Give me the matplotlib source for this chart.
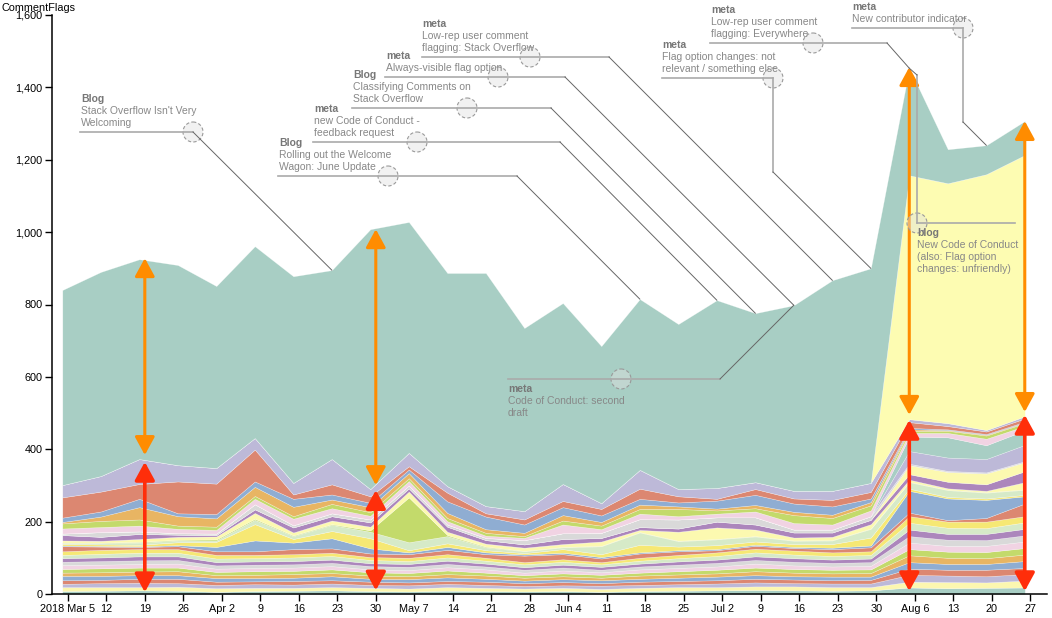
import numpy as np
import matplotlib
matplotlib.use("Agg")
import matplotlib.pyplot as plt
import matplotlib.dates as mdates
import matplotlib.transforms as mtransforms
from matplotlib.patches import Circle
from matplotlib.lines import Line2D
from matplotlib.ticker import StrMethodFormatter

plt.rcParams["font.family"] = ["Liberation Sans", "DejaVu Sans"]

W, H = 1052, 618

# weekly buckets (Sunday-based)
weeks = ["2018-03-04", "2018-03-11", "2018-03-18", "2018-03-25", "2018-04-01", "2018-04-08",
         "2018-04-15", "2018-04-22", "2018-04-29", "2018-05-06", "2018-05-13", "2018-05-20",
         "2018-05-27", "2018-06-03", "2018-06-10", "2018-06-17", "2018-06-24", "2018-07-01",
         "2018-07-08", "2018-07-15", "2018-07-22", "2018-07-29", "2018-08-05", "2018-08-12",
         "2018-08-19", "2018-08-26"]

# many small flag reasons at the bottom of the stack
thin = [
    [8, 9, 10, 9, 6, 8, 9, 10, 8, 7, 9, 8, 7, 8, 6, 8, 9, 10, 11, 10, 9, 10, 18, 16, 17, 18],
    [11, 10, 9, 11, 10, 9, 8, 9, 9, 8, 10, 9, 8, 9, 8, 9, 10, 9, 10, 11, 10, 9, 16, 17, 15, 19],
    [9, 11, 12, 10, 9, 10, 9, 10, 8, 9, 9, 8, 7, 7, 9, 8, 8, 10, 11, 9, 10, 10, 19, 18, 17, 18],
    [10, 9, 11, 12, 9, 8, 10, 9, 9, 8, 8, 9, 8, 9, 7, 9, 9, 9, 10, 10, 9, 10, 17, 16, 18, 17],
    [12, 11, 10, 10, 10, 9, 9, 11, 8, 9, 10, 8, 7, 8, 8, 8, 9, 10, 10, 9, 10, 9, 18, 16, 16, 19],
    [9, 10, 10, 11, 8, 9, 10, 9, 9, 8, 9, 9, 8, 8, 7, 9, 9, 9, 11, 10, 9, 10, 19, 17, 16, 18],
    [10, 11, 11, 10, 9, 10, 9, 10, 9, 9, 10, 8, 7, 8, 8, 8, 9, 10, 10, 10, 10, 10, 17, 17, 17, 18],
    [11, 10, 10, 11, 9, 9, 9, 9, 8, 8, 9, 9, 7, 8, 7, 9, 9, 9, 11, 10, 9, 10, 18, 16, 17, 18],
    [9, 10, 10, 10, 9, 9, 9, 9, 9, 9, 9, 8, 8, 8, 7, 8, 9, 10, 10, 10, 10, 10, 18, 17, 16, 17],
    [10, 10, 11, 10, 9, 9, 9, 9, 8, 8, 9, 8, 7, 8, 8, 8, 9, 9, 10, 10, 9, 10, 18, 16, 17, 18],
    [9, 10, 10, 10, 10, 9, 10, 10, 9, 8, 9, 8, 8, 8, 7, 8, 9, 10, 11, 10, 10, 10, 19, 17, 16, 18],
    [10, 11, 10, 10, 10, 9, 9, 9, 8, 9, 9, 8, 6, 7, 6, 8, 9, 10, 10, 11, 10, 10, 18, 17, 18, 17],
]
salmon2 = [14, 9, 6, 8, 10, 10, 14, 12, 10, 10, 12, 10, 18, 14, 10, 12, 10, 6, 8, 7, 9, 11, 10, 4, 10, 35]
blue2 = [2, 2, 2, 3, 12, 30, 18, 28, 14, 5, 8, 5, 3, 4, 4, 3, 3, 3, 3, 3, 4, 5, 60, 60, 50, 20]
byellow = [4, 4, 4, 8, 14, 45, 10, 20, 28, 6, 10, 6, 4, 10, 8, 21, 10, 11, 9, 8, 10, 22, 6, 4, 4, 4]
mint = [3, 4, 6, 5, 4, 12, 8, 17, 18, 22, 20, 8, 5, 5, 22, 34, 15, 16, 14, 9, 10, 24, 18, 19, 16, 14]
lime = [1, 1, 2, 2, 3, 3, 2, 2, 4, 124, 3, 2, 1, 1, 1, 1, 1, 1, 1, 1, 1, 1, 1, 1, 1, 1]
lyellow = [6, 5, 8, 8, 8, 16, 8, 10, 10, 16, 9, 8, 9, 8, 12, 6, 25, 32, 18, 8, 9, 12, 6, 4, 4, 20]
purple = [15, 11, 14, 6, 4, 10, 14, 12, 12, 9, 14, 10, 9, 14, 10, 8, 9, 16, 14, 14, 12, 12, 15, 18, 18, 30]
lyellow2 = [0, 0, 0, 0, 0, 0, 0, 0, 0, 0, 0, 0, 0, 0, 0, 0, 0, 0, 0, 0, 0, 0, 25, 27, 30, 25]
gray = [4, 13, 7, 4, 4, 14, 6, 8, 8, 8, 6, 6, 12, 16, 14, 22, 25, 12, 20, 8, 8, 10, 4, 3, 3, 3]
lav2 = [0, 0, 0, 0, 0, 0, 0, 0, 0, 0, 0, 0, 0, 0, 0, 0, 0, 0, 0, 0, 0, 0, 35, 37, 37, 45]
teal2 = [0, 0, 0, 0, 0, 0, 0, 0, 0, 0, 0, 0, 0, 0, 0, 0, 0, 0, 0, 0, 0, 0, 40, 56, 38, 40]
pink = [14, 14, 16, 12, 10, 15, 18, 14, 10, 12, 9, 6, 6, 24, 10, 15, 9, 10, 16, 18, 14, 16, 10, 12, 18, 12]
green = [14, 17, 17, 9, 9, 8, 7, 12, 10, 8, 9, 8, 5, 11, 10, 13, 20, 9, 9, 22, 18, 14, 6, 6, 9, 8]
orange = [4, 12, 34, 26, 23, 25, 26, 12, 14, 14, 14, 10, 9, 15, 10, 12, 7, 5, 9, 9, 9, 9, 4, 2, 2, 2]
blue = [12, 14, 23, 8, 12, 15, 22, 14, 12, 10, 32, 35, 23, 22, 18, 16, 11, 22, 28, 23, 23, 10, 4, 2, 2, 2]
salmon = [56, 55, 41, 88, 84, 88, 12, 28, 18, 9, 24, 9, 14, 17, 18, 28, 17, 5, 16, 14, 18, 18, 16, 9, 7, 9]
lavender = [34, 43, 69, 45, 43, 32, 32, 70, 20, 37, 18, 20, 23, 47, 16, 52, 20, 30, 19, 21, 25, 25, 8, 8, 4, 6]
new_coc = [0, 0, 0, 0, 0, 0, 0, 0, 0, 0, 0, 0, 0, 0, 0, 0, 0, 0, 0, 0, 0, 0, 674, 663, 707, 722]
no_longer_needed = [539, 564, 552, 553, 503, 530, 571, 522, 718, 638, 589, 644, 506, 500, 434,
                    472, 456, 519, 467, 513, 582, 593, 296, 94, 80, 94]

tick_dates = ["2018-03-05", "2018-03-12", "2018-03-19", "2018-03-26", "2018-04-02", "2018-04-09",
              "2018-04-16", "2018-04-23", "2018-04-30", "2018-05-07", "2018-05-14", "2018-05-21",
              "2018-05-28", "2018-06-04", "2018-06-11", "2018-06-18", "2018-06-25", "2018-07-02",
              "2018-07-09", "2018-07-16", "2018-07-23", "2018-07-30", "2018-08-06", "2018-08-13",
              "2018-08-20", "2018-08-27"]
tick_labels = ["2018 Mar 5", "12", "19", "26", "Apr 2", "9", "16", "23", "30", "May 7", "14",
               "21", "28", "Jun 4", "11", "18", "25", "Jul 2", "9", "16", "23", "30", "Aug 6",
               "13", "20", "27"]

# double arrows: total -> rest of stack (orange), rest of stack -> 0 (red)
arrow_dates = ["2018-03-19", "2018-04-30", "2018-08-05", "2018-08-26"]
orange_top = [928, 1008, 1456, 1307]
orange_bot = [384, 301, 495, 503]
red_top = [365, 287, 481, 495]
red_bot = [5, 10, 8, 8]

# (kind, lines, text x, underline y, underline x0..x1, circle x, bend points, target week, below)
notes = [
    ("Blog", ["Stack Overflow Isn't Very", "Welcoming"], 81, 132, 80, 193, 193, [], 7, False),
    ("Blog", ["Rolling out the Welcome", "Wagon: June Update"], 279, 176, 278, 517, 388, [], 15, False),
    ("meta", ["new Code of Conduct -", "feedback request"], 314, 142, 313, 560, 417, [], 17, False),
    ("Blog", ["Classifying Comments on", "Stack Overflow"], 353, 108, 352, 551, 467, [], 18, False),
    ("meta", ["Always-visible flag option"], 386, 77, 385, 565, 498, [], 19, False),
    ("meta", ["Low-rep user comment", "flagging: Stack Overflow"], 422, 57, 422, 609, 530, [], 20, False),
    ("meta", ["Flag option changes: not", "relevant / something else"], 662, 78, 662, 773, 773,
     [(773, 172)], 21, False),
    ("meta", ["Low-rep user comment", "flagging: Everywhere"], 711, 43, 710, 887, 813, [], 22, False),
    ("meta", ["New contributor indicator"], 852, 28, 852, 963, 963, [(963, 122)], 24, False),
    ("blog", ["New Code of Conduct", "(also: Flag option", "changes: unfriendly)"], 917, 223, 917, 1015, 917,
     [(917, 75)], 22, True),
    ("meta", ["Code of Conduct: second", "draft"], 508, 379, 508, 720, 621, [], 19, True),
]

x = np.array(weeks, dtype="datetime64[D]")
layers = thin + [salmon2, blue2, byellow, mint, lime, lyellow, purple, lyellow2, gray, lav2, teal2,
                 pink, green, orange, blue, salmon, lavender, new_coc, no_longer_needed]
thin_cols = ["#a8cec4", "#fcf7b0", "#bdb9d8", "#dc8771", "#8fadd2", "#e8b563", "#c3da6b",
             "#f1d3e3", "#d9d9d9", "#ac86bc", "#d6eac8", "#f6e874"]
cols = thin_cols + ["#dc8771", "#8fadd2", "#f6e874", "#d6eac8", "#c3da6b", "#fcf9b0", "#ac86bc",
                    "#fcf9b0", "#d9d9d9", "#bdb9d8", "#a8cec4", "#f1d3e3", "#c3da6b", "#e8b563",
                    "#8fadd2", "#dc8771", "#bdb9d8", "#fdfcb2", "#a8cec4"]

fig = plt.figure(figsize=(W / 100, H / 100), dpi=100)
ax = fig.add_axes([52 / W, (H - 594) / H, (1047 - 52) / W, (594 - 15) / H])
ax.stackplot(x, *layers, colors=cols, edgecolor=(1, 1, 1, 0.45), linewidth=0.35)

ax.set_xlim(np.datetime64("2018-03-02T03:00"), np.datetime64("2018-08-30T01:00"))
ax.set_ylim(0, 1600)
ax.set_yticks(range(0, 1601, 200))
ax.yaxis.set_major_formatter(StrMethodFormatter("{x:,.0f}"))
ax.set_xticks(np.array(tick_dates, dtype="datetime64[D]"))
ax.set_xticklabels(tick_labels)
ax.tick_params(labelsize=7.8, length=5, width=1, direction="out", pad=2)
for s in ["top", "right"]:
    ax.spines[s].set_visible(False)
for s in ["left", "bottom"]:
    ax.spines[s].set_linewidth(1.1)
fig.text(2 / W, 1 - 8 / H, "CommentFlags", fontsize=7.8, va="center", ha="left")

for d, ot, ob, rt, rb in zip(arrow_dates, orange_top, orange_bot, red_top, red_bot):
    xd = np.datetime64(d)
    ax.annotate("", xy=(xd, ot), xytext=(xd, ob),
                arrowprops=dict(arrowstyle="<|-|>,head_length=0.55,head_width=0.3", color="#ff8c00",
                                lw=2.2, shrinkA=0, shrinkB=0, mutation_scale=20))
    ax.annotate("", xy=(xd, rt), xytext=(xd, rb),
                arrowprops=dict(arrowstyle="<|-|>,head_length=0.55,head_width=0.3", color="#ff2e0a",
                                lw=2.6, shrinkA=0, shrinkB=0, mutation_scale=20))

# annotations live in pixel space (origin top-left), connectors end on the stack top
px = mtransforms.Affine2D().scale(1 / W, -1 / H).translate(0, 1) + fig.transFigure
totals = np.sum(np.array(layers), axis=0)
for kind, lines, tx, uy, ux0, ux1, cx, bends, ti, below in notes:
    if below:
        ys = [uy + 10] + [uy + 22 + 12 * k for k in range(len(lines))]
    else:
        n = len(lines)
        ys = [uy - 9 - 12 * n] + [uy - 9 - 12 * (n - 1 - k) for k in range(n)]
    fig.text(tx, ys[0], kind, transform=px, fontsize=7.5, fontweight="bold", color="#777777",
             va="center", ha="left")
    for yy, ln in zip(ys[1:], lines):
        fig.text(tx, yy, ln, transform=px, fontsize=7.5, color="#888888", va="center", ha="left")
    fig.add_artist(Line2D([ux0, ux1], [uy, uy], transform=px, color="#aaaaaa", lw=1.2))
    start = (ux1, uy) if not below or ti != 22 else (ux0, uy)
    if bends:
        fig.add_artist(Line2D([start[0], bends[-1][0]], [start[1], bends[-1][1]], transform=px,
                              color="#aaaaaa", lw=1.2))
        start = bends[-1]
    dx, dy = ax.transData.transform((mdates.date2num(x[ti]), totals[ti]))
    fig.add_artist(Line2D([start[0], dx], [start[1], H - dy], transform=px, color="#666666", lw=0.7))
    fig.add_artist(Circle((cx, uy), 10, transform=px, facecolor=(0.88, 0.88, 0.88, 0.45),
                          edgecolor="#999999", linestyle=(0, (3, 2)), lw=0.8))

fig.savefig("out.png", dpi=100)
